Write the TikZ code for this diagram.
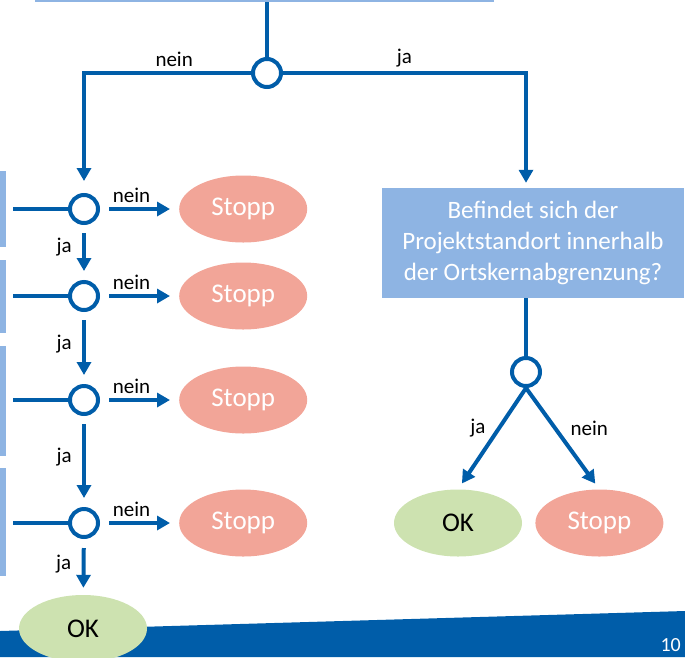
\documentclass[tikz,border=0pt]{standalone}
\usepackage{fontspec}
\setmainfont{Carlito}
\usepackage{xcolor}
\usepackage{tikz}
\usetikzlibrary{shapes.geometric,arrows.meta,positioning}
\definecolor{linkblue}{HTML}{005DA9}
\definecolor{qblue}{HTML}{8EB4E3}
\definecolor{stoppred}{HTML}{F2A598}
\definecolor{okgreen}{HTML}{CDE2B0}

\begin{document}
\begin{tikzpicture}[x=1pt,y=-1pt,
  qbox/.style={rectangle,fill=qblue,inner sep=0pt},
  knot/.style={circle,draw=linkblue,line width=4pt,fill=white,minimum size=28pt,inner sep=0pt},
  stopp/.style={ellipse,fill=stoppred,text=white,minimum width=128pt,minimum height=67pt,inner sep=0pt,font=\fontsize{27}{32}\selectfont},
  ok/.style={ellipse,fill=okgreen,minimum width=128pt,minimum height=67pt,inner sep=0pt,font=\fontsize{27}{32}\selectfont},
  lbl/.style={font=\fontsize{21}{24}\selectfont},
  line/.style={line width=4pt,draw=linkblue},
  arr/.style={line,-{Triangle[length=13pt,width=14pt]}},
  node distance=79pt
]
\useasboundingbox (0,0) rectangle (685,657);
% footer band
\fill[linkblue] (0,631) -- (685,611) -- (685,657) -- (0,657) -- cycle;
\node[anchor=west,text=white,font=\fontsize{20}{24}\selectfont] (pnum) at (657,645) {10};
% question boxes (cut off)
\node[qbox,minimum width=459pt,minimum height=40pt,anchor=south] (q0) at (264.5,2) {};
\node[qbox,minimum width=56pt,minimum height=76pt] (q1) at (-22,209) {};
\node[qbox,minimum width=56pt,minimum height=73pt] (q2) at (-22,296.5) {};
\node[qbox,minimum width=56pt,minimum height=110pt] (q3) at (-22,401) {};
\node[qbox,minimum width=56pt,minimum height=108pt] (q4) at (-22,522) {};
\node[qbox,minimum width=302pt,minimum height=110pt,text=white,align=center,font=\fontsize{25}{31}\selectfont] (rq) at (533,243)
  {Befindet sich der\\Projektstandort innerhalb\\der Ortskernabgrenzung?};
% decision knots
\node[knot] (c0) at (267,73) {};
\node[knot] (c1) at (84,209) {};
\node[knot] (c2) at (84,296) {};
\node[knot] (c3) at (84,400) {};
\node[knot] (c4) at (84,523) {};
\node[knot] (c5) at (526,372) {};
% results
\node[stopp,right=of c1] (s1) {Stopp};
\node[stopp,right=of c2] (s2) {Stopp};
\node[stopp,right=of c3] (s3) {Stopp};
\node[stopp,right=of c4] (s4) {Stopp};
\node[ok] (ok1) at (83,628.5) {OK};
\node[ok] (ok2) at (458,523) {OK};
\node[stopp,right=13pt of ok2] (s5) {Stopp};
% connectors
\draw[line] (c0 |- q0.south) -- (c0);
\draw[arr,shorten >=12pt] (c0) -| node[lbl,pos=0.23,above=1pt]{nein} (c1);
\draw[arr,shorten >=5pt] (c0) -| node[lbl,pos=0.25,above=1pt]{ja} (c5 |- rq.north);
\draw[line,shorten <=7pt] (q1.east |- c1) -- (c1);
\draw[line,shorten <=7pt] (q2.east |- c2) -- (c2);
\draw[line,shorten <=7pt] (q3.east |- c3) -- (c3);
\draw[line,shorten <=7pt] (q4.east |- c4) -- (c4);
\draw[arr,shorten <=9pt,shorten >=9pt] (c1) -- node[lbl,pos=0.4,above=1pt]{nein} (s1);
\draw[arr,shorten <=9pt,shorten >=9pt] (c2) -- node[lbl,pos=0.4,above=1pt]{nein} (s2);
\draw[arr,shorten <=9pt,shorten >=9pt] (c3) -- node[lbl,pos=0.4,above=1pt]{nein} (s3);
\draw[arr,shorten <=9pt,shorten >=9pt] (c4) -- node[lbl,pos=0.4,above=1pt]{nein} (s4);
\draw[arr,shorten <=8pt,shorten >=9pt] (c1) -- node[lbl,pos=0.4,left=7pt]{ja} (c2);
\draw[arr,shorten <=8pt,shorten >=9pt] (c2) -- node[lbl,pos=0.45,left=7pt]{ja} (c3);
\draw[arr,shorten <=8pt,shorten >=9pt] (c3) -- node[lbl,pos=0.45,left=7pt]{ja} (c4);
\draw[arr,shorten <=9pt,shorten >=7pt] (c4) -- node[lbl,pos=0.45,left=7pt]{ja} (ok1);
\draw[line] (rq.south -| c5) -- (c5);
\draw[arr,shorten >=7pt] (c5.south) -- node[lbl,pos=0.4,left=8pt]{ja} (ok2.north);
\draw[arr,shorten >=7pt] (c5.south) -- node[lbl,pos=0.4,right=10pt]{nein} (s5.north);
\end{tikzpicture}
\end{document}
